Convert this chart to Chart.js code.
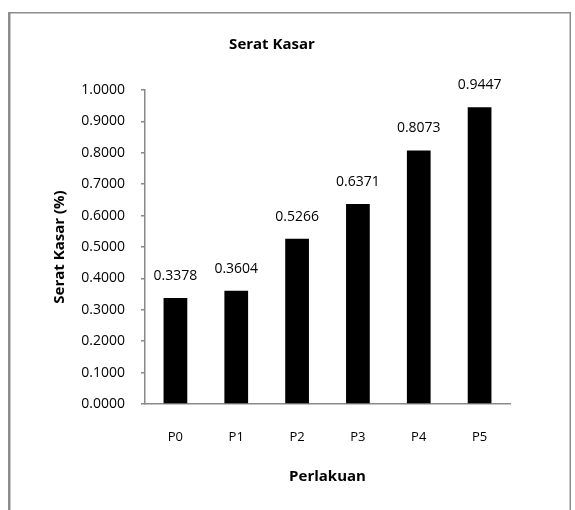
<!DOCTYPE html>
<html>
<head>
<meta charset="utf-8">
<script src="https://cdn.jsdelivr.net/npm/chart.js@4"></script>
<style>
  html, body { margin: 0; padding: 0; background: #ffffff; }
  #wrap { width: 575px; height: 510px; }
</style>
</head>
<body>
<div id="wrap"><canvas id="chart" width="575" height="510"></canvas></div>
<script>
// Crude fibre content per treatment
const categories = ['P0', 'P1', 'P2', 'P3', 'P4', 'P5'];
const seratKasar = [0.3378, 0.3604, 0.5266, 0.6371, 0.8073, 0.9447];
const yTicks = [0, 0.1, 0.2, 0.3, 0.4, 0.5, 0.6, 0.7, 0.8, 0.9, 1.0];

const chartTitle = 'Serat Kasar';
const xTitle = 'Perlakuan';
const yTitle = 'Serat Kasar (%)';

const axisGrey = '#898989';
const numFont = 'Open Sans';
const titleFont = 'Open Sans';

// Outline of the chart object
const framePlugin = {
  id: 'frame',
  beforeDraw(chart) {
    const ctx = chart.ctx;
    ctx.save();
    ctx.fillStyle = '#ffffff';
    ctx.fillRect(0, 0, chart.width, chart.height);
    ctx.fillStyle = '#8c8c8c';
    ctx.fillRect(8, 12, 563, 1.5);
    ctx.fillRect(8, 12, 2.5, 600);
    ctx.fillRect(569.5, 12, 1.5, 600);
    ctx.restore();
  }
};

// Value written above each bar
const valueLabels = {
  id: 'valueLabels',
  afterDatasetsDraw(chart) {
    const ctx = chart.ctx;
    const meta = chart.getDatasetMeta(0);
    const data = chart.data.datasets[0].data;
    ctx.save();
    ctx.font = '14px "' + numFont + '"';
    ctx.fillStyle = '#000000';
    ctx.textAlign = 'center';
    ctx.textBaseline = 'middle';
    meta.data.forEach((bar, i) => {
      ctx.fillText(data[i].toFixed(4), bar.x, bar.y - 22);
    });
    ctx.restore();
  }
};

new Chart(document.getElementById('chart'), {
  type: 'bar',
  data: {
    labels: categories,
    datasets: [{
      data: seratKasar,
      backgroundColor: '#000000',
      borderWidth: 0,
      barPercentage: 0.39,
      categoryPercentage: 1.0
    }]
  },
  options: {
    responsive: false,
    animation: false,
    devicePixelRatio: 1,
    layout: { padding: { left: 34, right: 65, top: 0, bottom: 0 } },
    plugins: {
      legend: { display: false },
      tooltip: { enabled: false },
      title: {
        display: true,
        text: chartTitle,
        color: '#000000',
        font: { family: titleFont, size: 15, weight: 'bold', lineHeight: 1.2 },
        padding: { top: 36, bottom: 36 }
      }
    },
    scales: {
      x: {
        grid: { display: false, drawTicks: false },
        border: { display: true, color: axisGrey, width: 1.5 },
        ticks: {
          color: '#000000',
          font: { family: numFont, size: 13 },
          padding: 25
        },
        title: {
          display: true,
          text: xTitle,
          color: '#000000',
          font: { family: titleFont, size: 15, weight: 'bold', lineHeight: 1.2 },
          padding: { top: 0, bottom: 24 }
        },
        afterFit(scale) { scale.height = 106; }
      },
      y: {
        min: 0,
        max: 1,
        afterBuildTicks(scale) {
          scale.ticks = yTicks.map(v => ({ value: v }));
        },
        grid: {
          drawOnChartArea: false,
          drawTicks: true,
          tickLength: 4,
          color: axisGrey,
          lineWidth: 1.5
        },
        border: { display: true, color: axisGrey, width: 1.5 },
        ticks: {
          color: '#000000',
          font: { family: numFont, size: 14 },
          padding: 16,
          callback: v => Number(v).toFixed(4)
        },
        title: {
          display: true,
          text: yTitle,
          color: '#000000',
          font: { family: titleFont, size: 15, weight: 'bold', lineHeight: 1.2 },
          padding: { top: 17, bottom: 0 }
        },
        afterFit(scale) { scale.width = 111; }
      }
    }
  },
  plugins: [framePlugin, valueLabels]
});
</script>
</body>
</html>
